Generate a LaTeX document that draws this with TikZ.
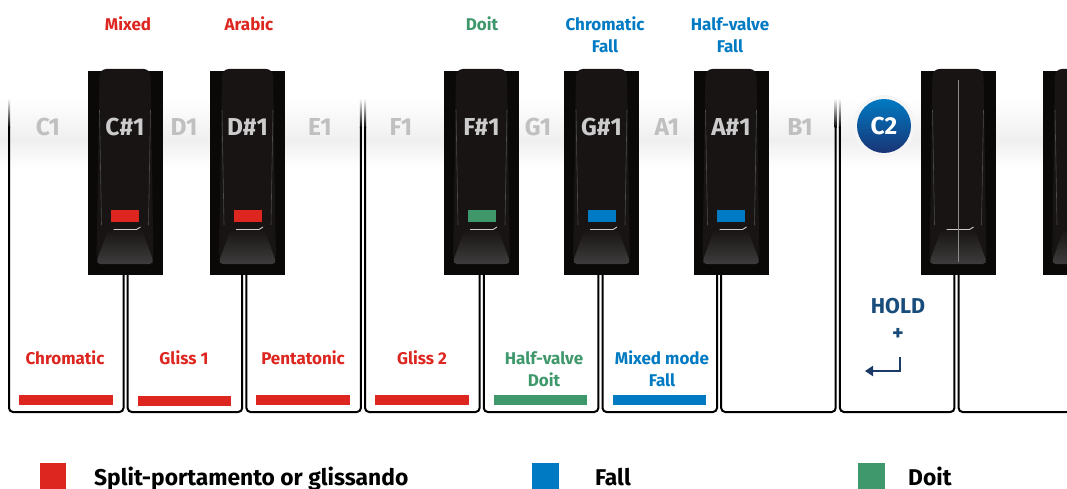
\documentclass[tikz,border=0pt]{standalone}
\usepackage{fontspec}
\setmainfont{Fira Sans}
\usepackage{xcolor}
\usetikzlibrary{arrows.meta}
\definecolor{GlissRed}{RGB}{220,38,31}
\definecolor{DoitGreen}{RGB}{62,152,108}
\definecolor{FallBlue}{RGB}{0,122,194}
\definecolor{HoldBlue}{RGB}{24,76,122}
\definecolor{ArrowBlue}{RGB}{28,58,102}
\definecolor{KeyGray}{RGB}{192,192,192}
\definecolor{EbonyDark}{RGB}{11,9,8}
\definecolor{EbonyBody}{RGB}{23,20,19}
\definecolor{EbonyLight}{RGB}{62,60,60}
\newcommand{\wkl}{118.7}
% one black key, left edge at #1
\newcommand{\blackkey}[1]{%
  \fill[EbonyDark] (#1,71) rectangle ++(75,204);
  \fill[EbonyBody,rounded corners=7pt] (#1+12,69) -- (#1+63,69) -- (#1+66,262) -- (#1+9,262) -- cycle;
  \draw[black!70,line width=0.6pt] (#1+12,110) -- (#1+14,225);
  \draw[black!70,line width=0.6pt] (#1+63,110) -- (#1+61,225);
  \shade[top color=EbonyBody,bottom color=EbonyLight,rounded corners=5pt]
    (#1+21,229) -- (#1+54,229) -- (#1+67,264) -- (#1+8,264) -- cycle;
  \draw[white!80!black,line width=0.9pt] (#1+26,229.5) -- (#1+49,229.5) -- (#1+53,227);
}

\begin{document}
\begin{tikzpicture}[
  x=1pt,y=-1pt,
  wkey/.style={draw=black,line width=2pt,rounded corners=4pt},
  notename/.style={font=\fontsize{24.5}{26}\selectfont\bfseries,text=KeyGray,inner sep=0pt},
  sharpname/.style={font=\fontsize{24.5}{26}\selectfont\bfseries,text=white!80!black,inner sep=0pt},
  modetext/.style={font=\fontsize{17}{22}\selectfont\bfseries,align=center,inner sep=0pt},
  legendtext/.style={font=\fontsize{22.8}{24}\selectfont\bfseries,anchor=base west,text depth=0pt,inner sep=0pt},
  marker/.style={inner sep=0pt,minimum width=28pt,minimum height=12pt}]
\path[use as bounding box] (0,0) rectangle (1067,489);
\clip (0,0) rectangle (1067,489);
% light band behind the note names
\shade[top color=white,bottom color=black!6] (0,98) rectangle (1067,140);
\shade[top color=black!6,bottom color=white] (0,140) rectangle (1067,168);
% white keys
\foreach \k in {0,...,8}{
  \shade[top color=white,bottom color=black] (8+\wkl*\k,98) rectangle ++(2,30);
  \shade[top color=white,bottom color=black] (122.5+\wkl*\k,98) rectangle ++(2,30);
  \draw[wkey] (9+\wkl*\k,127) -- (9+\wkl*\k,412) -- (123.5+\wkl*\k,412) -- (123.5+\wkl*\k,127);
}
% black keys
\blackkey{87.5}
\blackkey{210}
\blackkey{444}
\blackkey{564}
\blackkey{693.5}
\blackkey{920.5}
\blackkey{1043}
\draw[black!45,line width=0.6pt] (958,80) -- (958,262);
% markers on the black keys
\node[marker,fill=GlissRed] (mcs) at (125,216) {};
\node[marker,fill=GlissRed] (mds) at (247.5,216) {};
\node[marker,fill=DoitGreen] (mfs) at (481.5,216) {};
\node[marker,fill=FallBlue] (mgs) at (601.5,216) {};
\node[marker,fill=FallBlue] (mas) at (731,216) {};
% note names
\node[notename] (c1) at (48,127) {C1};
\node[sharpname] (cs1) at (125,127) {C\#1};
\node[notename] (d1) at (184,127) {D1};
\node[sharpname] (ds1) at (247.5,127) {D\#1};
\node[notename] (e1) at (320,127) {E1};
\node[notename] (f1) at (401,127) {F1};
\node[sharpname] (fs1) at (481.5,127) {F\#1};
\node[notename] (g1) at (538,127) {G1};
\node[sharpname] (gs1) at (601.5,127) {G\#1};
\node[notename] (a1) at (667,127) {A1};
\node[sharpname] (as1) at (731,127) {A\#1};
\node[notename] (b1) at (800,127) {B1};
\fill[black!4] (884,126) circle (31);
\node[circle,minimum size=54pt,inner sep=0pt,top color=FallBlue,bottom color=ArrowBlue!90!blue,
  text=white,font=\fontsize{24.5}{26}\selectfont\bfseries] (c2) at (884,126) {C2};
% labels above the black keys
\node[modetext,text=GlissRed] (mixed) at (128,24) {Mixed};
\node[modetext,text=GlissRed] (arabic) at (249,24) {Arabic};
\node[modetext,text=DoitGreen] (doit) at (482,24) {Doit};
\node[modetext,text=FallBlue] (chromfall) at (605,35) {Chromatic\\Fall};
\node[modetext,text=FallBlue] (halffall) at (730,35) {Half-valve\\Fall};
% labels on the white keys
\node[modetext,text=GlissRed] (chrom) at (65,358) {Chromatic};
\node[modetext,text=GlissRed] (gliss1) at (184,358) {Gliss 1};
\node[modetext,text=GlissRed] (penta) at (303,358) {Pentatonic};
\node[modetext,text=GlissRed] (gliss2) at (422,358) {Gliss 2};
\node[modetext,text=DoitGreen] (halfdoit) at (544,369) {Half-valve\\Doit};
\node[modetext,text=FallBlue] (mixfall) at (662,369) {Mixed mode\\Fall};
\fill[GlissRed] (19,395) rectangle (112.5,405);
\fill[GlissRed] (137.7,396) rectangle (231.2,406);
\fill[GlissRed] (256.4,395) rectangle (349.9,405);
\fill[GlissRed] (375.1,395) rectangle (468.6,405);
\fill[DoitGreen] (493.8,395) rectangle (587.3,405);
\fill[FallBlue] (612.5,395) rectangle (706,405);
% hold + return
\node[modetext,text=HoldBlue,font=\fontsize{21.5}{24}\selectfont\bfseries] (hold) at (898,306) {HOLD};
\node[modetext,text=HoldBlue,font=\fontsize{22}{24}\selectfont\bfseries] (plus) at (898,334) {+};
\coordinate (rettop) at (900,357);
\coordinate (retend) at (865,371);
\draw[ArrowBlue,line width=2.4pt,-{Triangle[length=8pt,width=10pt]}] (rettop) |- (retend);
% legend
\node[inner sep=0pt,minimum size=26.5pt,fill=GlissRed,anchor=north west] (kred) at (39.5,463) {};
\node[legendtext] (tred) at (94,485) {Split-portamento or glissando};
\node[inner sep=0pt,minimum size=27pt,fill=FallBlue,anchor=north west] (kblue) at (532,463) {};
\node[legendtext] (tblue) at (595,485) {Fall};
\node[inner sep=0pt,minimum size=27pt,fill=DoitGreen,anchor=north west] (kgreen) at (858,463) {};
\node[legendtext] (tgreen) at (908,485) {Doit};
\end{tikzpicture}
\end{document}
